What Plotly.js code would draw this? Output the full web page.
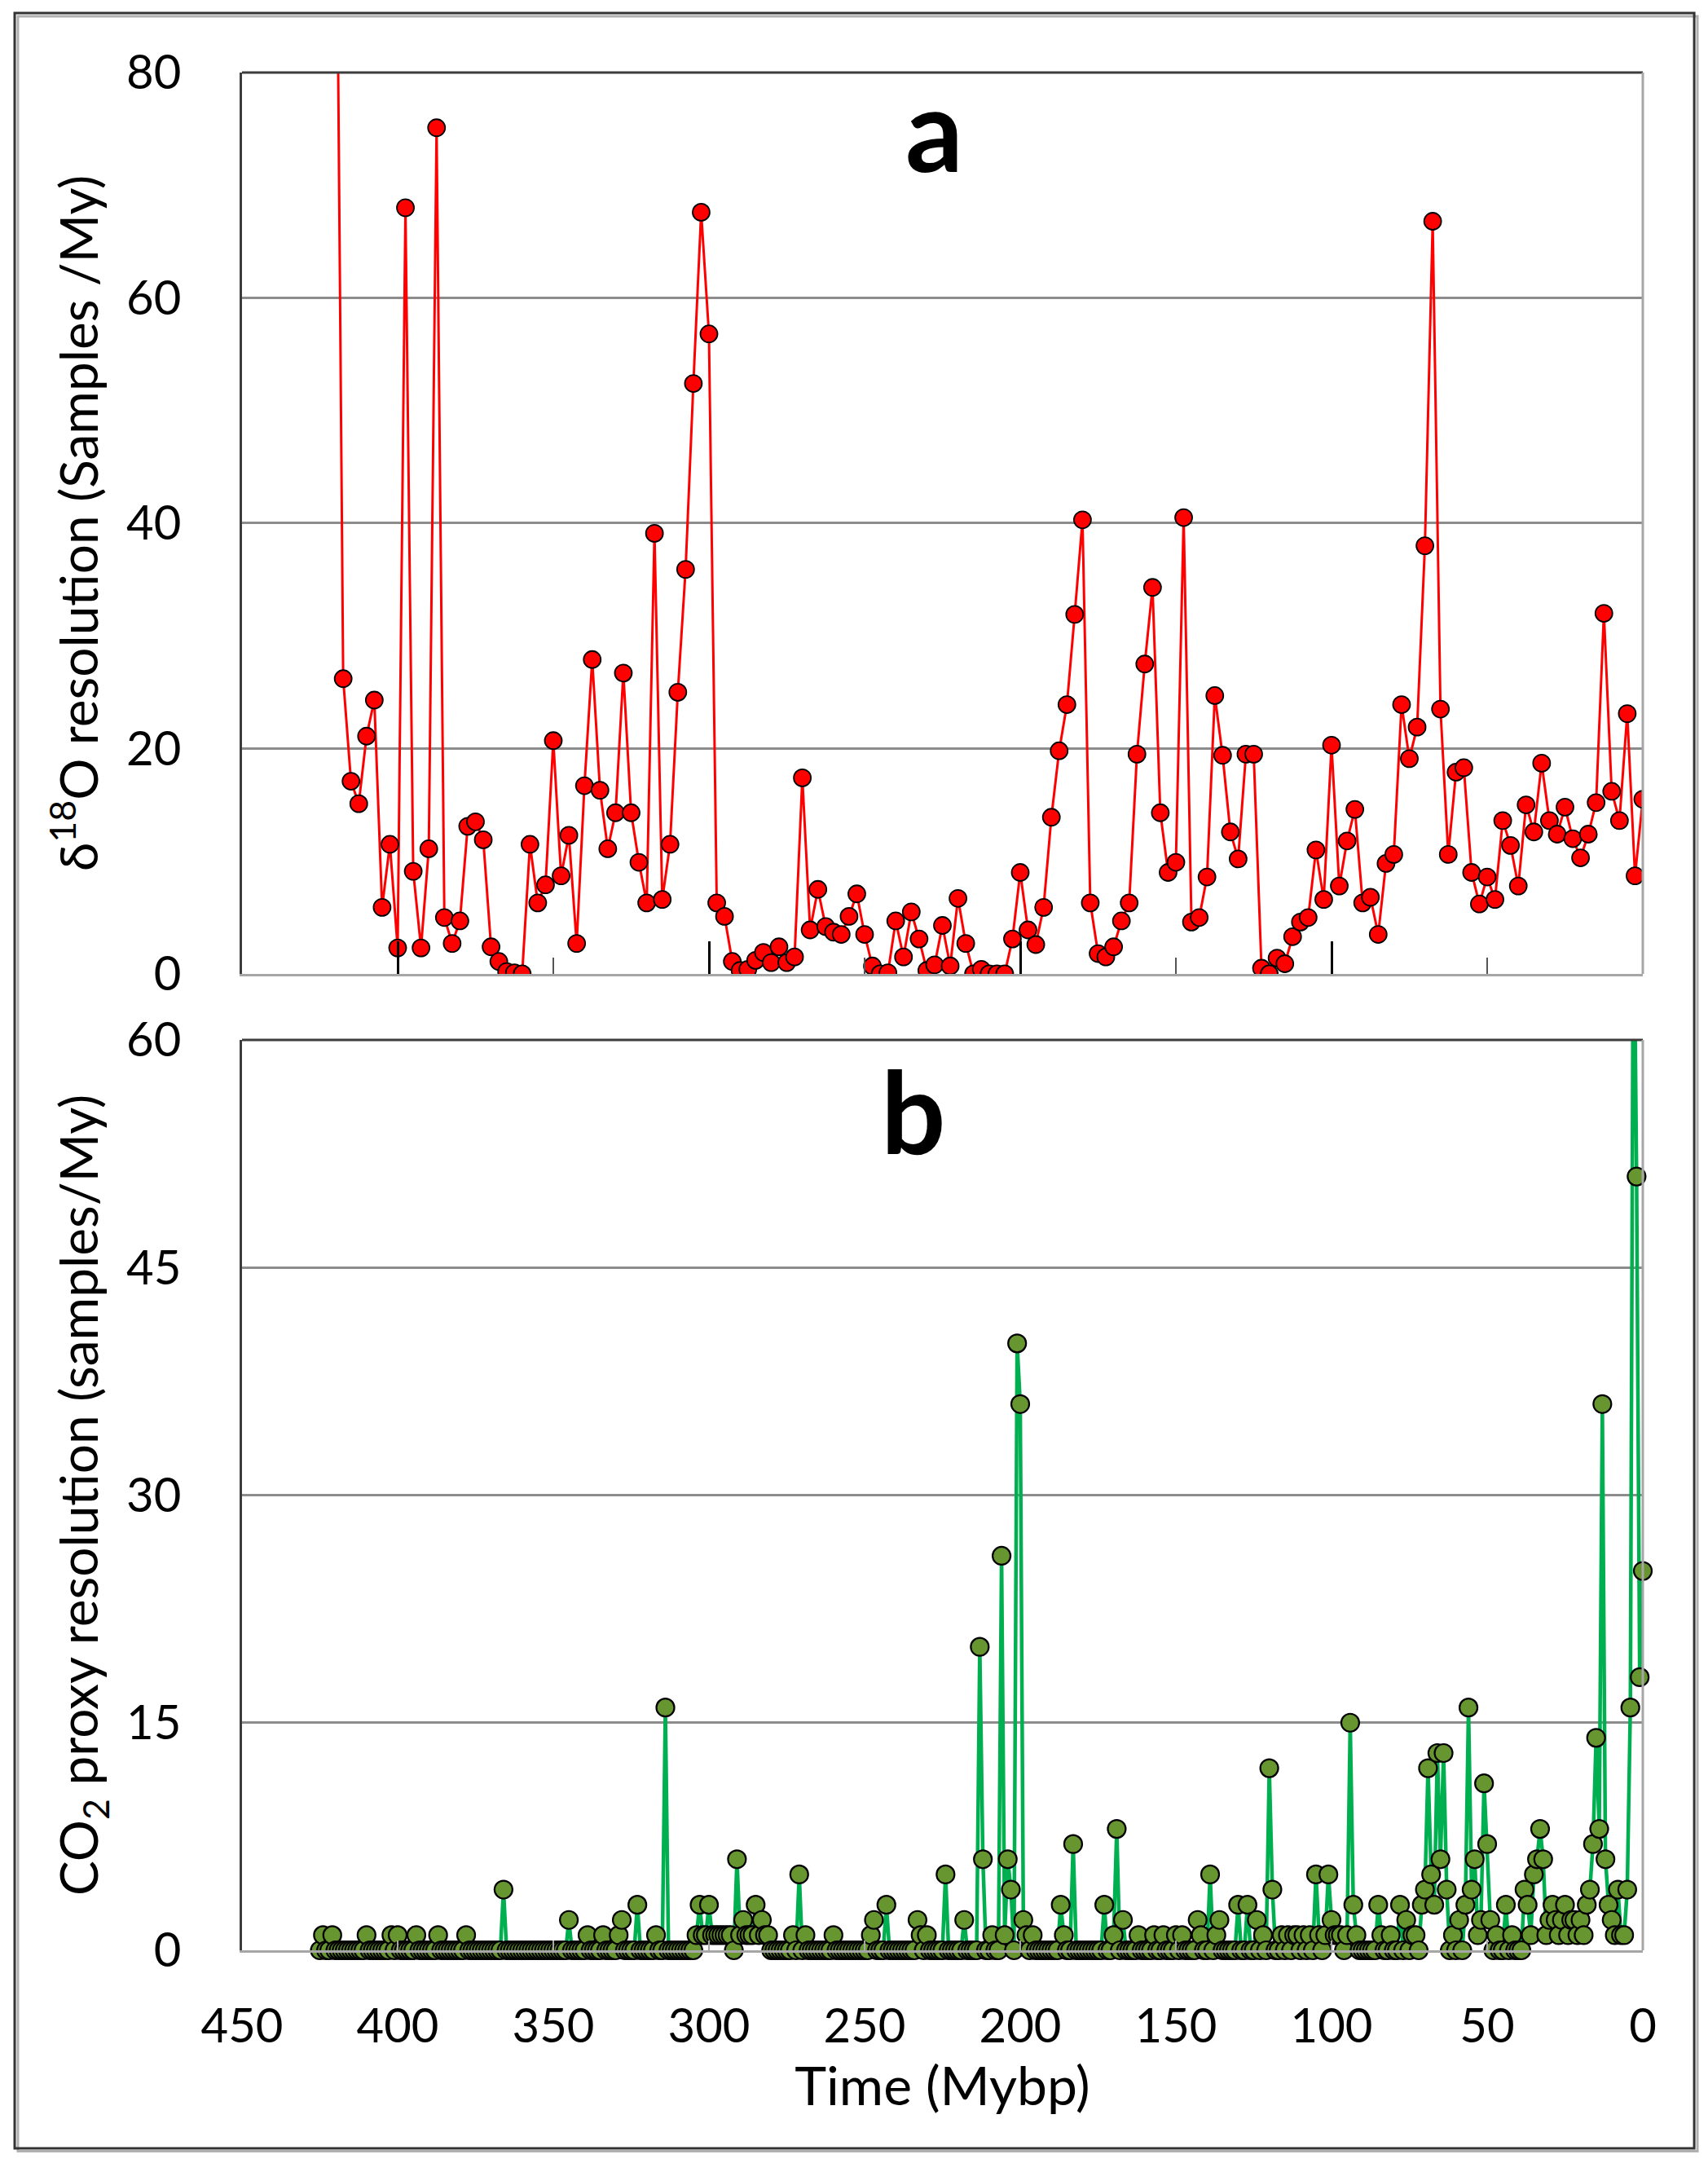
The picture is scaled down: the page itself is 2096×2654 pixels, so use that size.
<!DOCTYPE html>
<html>
<head>
<meta charset="utf-8">
<script src="https://cdn.plot.ly/plotly-3.0.1.min.js"></script>
<style>
  html, body { margin: 0; padding: 0; background: #fff; }
  #plot { width: 2096px; height: 2654px; }
</style>
</head>
<body>
<div id="plot"></div>
<script>
// Two stacked panels: d18O sampling resolution (a) and CO2 proxy resolution (b),
// both against time in My before present (axis reversed, 450 -> 0).

// ── Panel a: d18O samples per My, 2.5 My bins starting at 420 Mybp ──
const d18oStartAge = 420;
const d18oBinStep = 2.5;
const d18oRes = [
  110, 26.2, 17.1, 15.1, 21.1, 24.3, 5.9, 11.5, 2.3, 68.0,
  9.1, 2.3, 11.1, 75.1, 5.0, 2.7, 4.7, 13.1, 13.5, 11.9,
  2.4, 1.1, 0.2, 0.1, 0, 11.5, 6.3, 7.9, 20.7, 8.7,
  12.3, 2.7, 16.7, 27.9, 16.3, 11.1, 14.3, 26.7, 14.3, 9.9,
  6.3, 39.1, 6.6, 11.5, 25.0, 35.9, 52.4, 67.6, 56.8, 6.3,
  5.1, 1.1, 0.3, 0.4, 1.2, 1.9, 1.0, 2.4, 1.0, 1.5,
  17.4, 3.9, 7.5, 4.2, 3.7, 3.5, 5.1, 7.1, 3.5, 0.7,
  0, 0.1, 4.7, 1.5, 5.5, 3.1, 0.3, 0.8, 4.3, 0.7,
  6.7, 2.7, 0, 0.4, 0, 0, 0, 3.1, 9.0, 3.9,
  2.6, 5.9, 13.9, 19.8, 23.9, 31.9, 40.3, 6.3, 1.8, 1.5,
  2.4, 4.7, 6.3, 19.5, 27.5, 34.3, 14.3, 9.0, 9.9, 40.5,
  4.6, 5.0, 8.6, 24.7, 19.4, 12.6, 10.2, 19.5, 19.5, 0.5,
  0, 1.4, 0.9, 3.3, 4.6, 5.0, 11.0, 6.6, 20.3, 7.8,
  11.8, 14.6, 6.3, 6.8, 3.5, 9.8, 10.6, 23.9, 19.1, 21.9,
  38.0, 66.8, 23.5, 10.6, 17.9, 18.3, 9.0, 6.2, 8.6, 6.6,
  13.6, 11.4, 7.8, 15.0, 12.6, 18.7, 13.6, 12.4, 14.8, 12.0,
  10.3, 12.4, 15.2, 32.0, 16.2, 13.6, 23.1, 8.7, 15.5,
];

// ── Panel b: CO2 proxy samples per My, 1 My bins starting at 425 Mybp ──
const co2StartAge = 425;
const co2BinStep = 1;
const co2Res = [
  0, 1, 0, 0, 1, 0, 0, 0, 0, 0,      // 425-416
  0, 0, 0, 0, 0, 1, 0, 0, 0, 0,      // 415-406
  0, 0, 0, 1, 0, 1, 0, 0, 0, 0,      // 405-396
  0, 1, 0, 0, 0, 0, 0, 0, 1, 0,      // 395-386
  0, 0, 0, 0, 0, 0, 0, 1, 0, 0,      // 385-376
  0, 0, 0, 0, 0, 0, 0, 0, 0, 4,      // 375-366
  0, 0, 0, 0, 0, 0, 0, 0, 0, 0,      // 365-356
  0, 0, 0, 0, 0, 0, 0, 0, 0, 0,      // 355-346
  2, 0, 0, 0, 0, 0, 1, 0, 0, 0,      // 345-336
  0, 1, 0, 0, 0, 0, 1, 2, 0, 0,      // 335-326
  0, 0, 3, 0, 0, 0, 0, 0, 1, 0,      // 325-316
  0, 16, 0, 0, 0, 0, 0, 0, 0, 0,     // 315-306
  0, 1, 3, 1, 1, 3, 1, 1, 1, 1,      // 305-296
  1, 1, 1, 0, 6, 1, 2, 1, 1, 1,      // 295-286
  3, 1, 2, 1, 1, 0, 0, 0, 0, 0,      // 285-276
  0, 0, 1, 0, 5, 0, 1, 0, 0, 0,      // 275-266
  0, 0, 0, 0, 0, 1, 0, 0, 0, 0,      // 265-256
  0, 0, 0, 0, 0, 0, 0, 1, 2, 0,      // 255-246
  0, 0, 3, 0, 0, 0, 0, 0, 0, 0,      // 245-236
  0, 0, 2, 1, 0, 1, 0, 0, 0, 0,      // 235-226
  0, 5, 0, 0, 0, 0, 0, 2, 0, 0,      // 225-216
  0, 0, 20, 6, 0, 0, 1, 0, 0, 26,    // 215-206
  1, 6, 4, 0, 40, 36, 2, 1, 0, 1,    // 205-196
  0, 0, 0, 0, 0, 0, 0, 0, 3, 1,      // 195-186
  0, 0, 7, 0, 0, 0, 0, 0, 0, 0,      // 185-176
  0, 0, 3, 0, 0, 1, 8, 0, 2, 0,      // 175-166
  0, 0, 0, 1, 0, 0, 0, 0, 1, 0,      // 165-156
  0, 1, 0, 0, 0, 1, 0, 1, 0, 0,      // 155-146
  0, 0, 2, 1, 0, 0, 5, 0, 1, 2,      // 145-136
  0, 0, 0, 0, 0, 3, 0, 0, 3, 0,      // 135-126
  0, 2, 0, 1, 0, 12, 4, 0, 0, 1,     // 125-116
  0, 1, 0, 1, 1, 0, 1, 0, 1, 0,      // 115-106
  5, 1, 0, 1, 5, 2, 1, 1, 1, 0,      // 105-96
  1, 15, 3, 1, 0, 0, 0, 0, 0, 0,     // 95-86
  3, 1, 0, 0, 1, 0, 0, 3, 0, 2,      // 85-76
  0, 1, 1, 0, 3, 4, 12, 5, 3, 13,    // 75-66
  6, 13, 4, 0, 1, 0, 2, 0, 3, 16,    // 65-56
  4, 6, 1, 2, 11, 7, 2, 0, 1, 0,     // 55-46
  0, 3, 0, 1, 0, 0, 0, 4, 3, 1,      // 45-36
  5, 6, 8, 6, 1, 2, 3, 2, 1, 2,      // 35-26
  3, 1, 2, 2, 1, 2, 1, 3, 4, 7,      // 25-16
  14, 8, 36, 6, 3, 2, 1, 4, 1, 1,    // 15-6
  4, 16, 72, 51, 18, 25,             // 5-0
];

const d18oAges = d18oRes.map((_, i) => d18oStartAge - i * d18oBinStep);
const co2Ages = co2Res.map((_, i) => co2StartAge - i * co2BinStep);

const FONT = "Lato, Carlito, Calibri, 'DejaVu Sans', sans-serif";
const GRID = "#8c8c8c";
const FRAME_DARK = "#3c3c3c";
const FRAME_LIGHT = "#a6a6a6";
const CO2_MAX = 60;

// Excel hides markers that fall above the axis maximum; line still runs off.
const co2MarkerSize = co2Res.map((v) => (v > CO2_MAX ? 0 : 22));

const traces = [
  {
    type: "scatter", mode: "lines+markers",
    x: d18oAges, y: d18oRes,
    xaxis: "x2", yaxis: "y2",
    line: { color: "#ff0000", width: 3 },
    marker: { color: "#ff0000", size: 21, opacity: 1, line: { color: "#000", width: 1.8 } },
    cliponaxis: true,
    hoverinfo: "x+y",
  },
  {
    type: "scatter", mode: "lines+markers",
    x: co2Ages, y: co2Res,
    xaxis: "x", yaxis: "y",
    line: { color: "#00b050", width: 4.5 },
    marker: { color: "#67952f", size: co2MarkerSize, sizemode: "diameter", opacity: 1,
      line: { color: "#000", width: 2.2 } },
    cliponaxis: false,
    hoverinfo: "x+y",
  },
];

const tickFont = { family: FONT, size: 58, color: "#000" };
const titleFont = { family: FONT, size: 66, color: "#000" };
const yTitleFont = { family: FONT, size: 64, color: "#000" };

// frame edges: left/top dark, right/bottom light (as in the Excel original)
function frame(xref, yref) {
  return [
    { type: "line", xref, yref, x0: 0, x1: 1, y0: 1, y1: 1,
      line: { color: FRAME_DARK, width: 3 } },
    { type: "line", xref, yref, x0: 1, x1: 1, y0: 0, y1: 1,
      line: { color: FRAME_LIGHT, width: 3 } },
  ];
}

const layout = {
  width: 2096, height: 2654,
  margin: { l: 297, r: 80, t: 89, b: 261 },
  paper_bgcolor: "#fff", plot_bgcolor: "#fff",
  showlegend: false,
  font: { family: FONT, color: "#000" },
  // bottom panel (b)
  xaxis: {
    domain: [0, 1], anchor: "y",
    range: [450, 0], tick0: 0, dtick: 50,
    ticks: "inside", ticklen: 12, tickwidth: 2, tickcolor: FRAME_LIGHT,
    showline: true, linecolor: FRAME_LIGHT, linewidth: 3,
    showgrid: false, zeroline: false,
    tickfont: tickFont, ticklabelstandoff: 40,
    title: { text: "Time (Mybp)", font: titleFont, standoff: 10 },
  },
  yaxis: {
    domain: [0, 0.4848], anchor: "x",
    range: [0, CO2_MAX], tick0: 0, dtick: 15,
    ticks: "", showline: true, linecolor: FRAME_DARK, linewidth: 3,
    showgrid: true, gridcolor: GRID, gridwidth: 3, zeroline: false,
    tickfont: tickFont, ticklabelstandoff: 60,
    title: { text: "CO<sub>2</sub> proxy resolution (samples/My)", font: yTitleFont, standoff: 14 },
  },
  // top panel (a)
  xaxis2: {
    domain: [0, 1], anchor: "y2",
    range: [450, 0], tick0: 0, dtick: 100,
    ticks: "inside", ticklen: 40, tickwidth: 3, tickcolor: "#000",
    minor: { dtick: 50, ticks: "inside", ticklen: 20, tickwidth: 2, tickcolor: "#555" },
    showline: true, linecolor: FRAME_LIGHT, linewidth: 3,
    showgrid: false, zeroline: false, showticklabels: false,
  },
  // outward stubs of the major ticks in panel a
  xaxis3: {
    overlaying: "x2", anchor: "y2", side: "bottom",
    range: [450, 0], tick0: 0, dtick: 100,
    ticks: "outside", ticklen: 9, tickwidth: 3, tickcolor: "#000",
    showline: false, showgrid: false, zeroline: false, showticklabels: false,
  },
  yaxis2: {
    domain: [0.52, 1], anchor: "x2",
    range: [0, 80], tick0: 0, dtick: 20,
    ticks: "", showline: true, linecolor: FRAME_DARK, linewidth: 3,
    showgrid: true, gridcolor: GRID, gridwidth: 3, zeroline: false,
    tickfont: tickFont, ticklabelstandoff: 60,
    title: { text: "δ<sup>18</sup>O resolution (Samples /My)", font: yTitleFont, standoff: 14 },
  },
  annotations: [
    { text: "<b>a</b>", xref: "x2 domain", yref: "y2 domain", x: 0.494, y: 0.9385,
      xanchor: "center", yanchor: "middle", showarrow: false,
      font: { family: FONT, size: 140, color: "#000" } },
    { text: "<b>b</b>", xref: "x domain", yref: "y domain", x: 0.479, y: 0.923,
      xanchor: "center", yanchor: "middle", showarrow: false,
      font: { family: FONT, size: 140, color: "#000" } },
  ],
  shapes: [
    ...frame("x2 domain", "y2 domain"),
    ...frame("x domain", "y domain"),
    // outer picture border with a light drop shadow on right/bottom
    { type: "rect", xref: "paper", yref: "paper",
      x0: -0.1600, x1: 1.0390, y0: -0.1070, y1: 1.0300,
      line: { color: "#b0b0b0", width: 3 }, layer: "below" },
    { type: "rect", xref: "paper", yref: "paper",
      x0: -0.1623, x1: 1.0367, y0: -0.1055, y1: 1.0317,
      line: { color: "#333", width: 3 }, fillcolor: "rgba(0,0,0,0)" },
  ],
};

Plotly.newPlot("plot", traces, layout, { displayModeBar: false, staticPlot: true });
</script>
</body>
</html>
